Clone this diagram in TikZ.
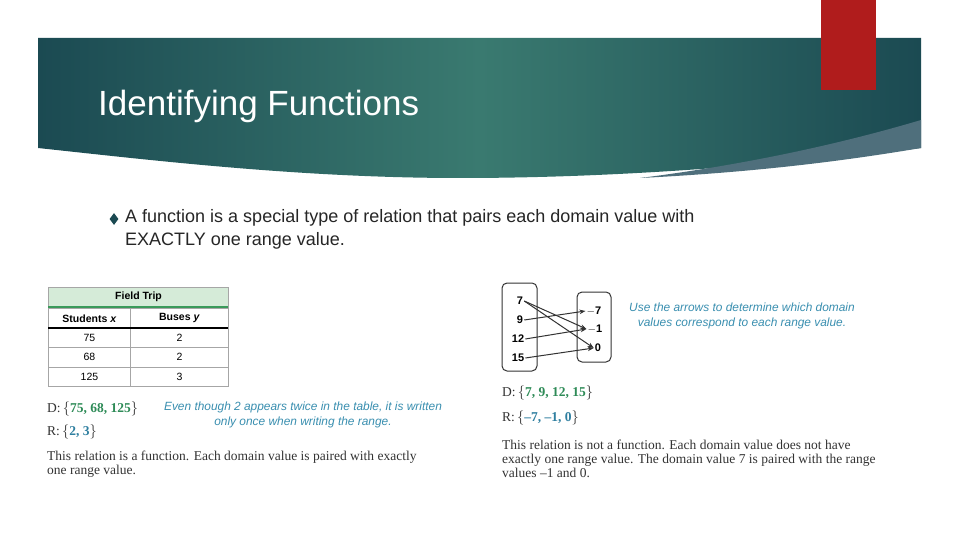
\documentclass[tikz,border=0pt]{standalone}
\usepackage{fontspec}
\setmainfont{Liberation Sans}
\newfontfamily\serifb{Liberation Serif}
\usetikzlibrary{shapes.geometric,arrows.meta}
\definecolor{tealA}{HTML}{1B4A52}
\definecolor{tealB}{HTML}{3A7A70}
\definecolor{swoosh}{HTML}{4F6F7C}
\definecolor{redb}{HTML}{B01C1C}
\definecolor{hdr}{HTML}{D5EBD8}
\definecolor{hdrline}{HTML}{3A9A5A}
\definecolor{gtxt}{HTML}{2E8B57}
\definecolor{btxt}{HTML}{2F7FA0}
\definecolor{note}{HTML}{3A8FB0}
\begin{document}
\begin{tikzpicture}[x=1pt,y=-1pt,
  cell/.style={draw=gray!70,line width=1pt,minimum height=19.5pt,inner sep=0pt,font=\fontsize{10.5}{12}\selectfont},
  bodyt/.style={font=\serifb\fontsize{13.5}{14}\selectfont,align=left,anchor=north west,inner sep=0pt,text=black!80},
  sett/.style={font=\serifb\fontsize{13.5}{15}\selectfont,anchor=west,inner sep=0pt,text=black!80},
  notet/.style={font=\itshape\fontsize{11.9}{15}\selectfont,text=note,align=center,inner sep=0pt},
  num/.style={font=\bfseries\fontsize{11}{12}\selectfont,inner sep=1pt},
  arr/.style={-{Stealth[length=6pt]},line width=1pt,black!80}]
\useasboundingbox (0,0) rectangle (960,540);
\fill[white] (0,0) rectangle (960,540);
% banner
\shade[left color=tealA,right color=tealA,middle color=tealB]
  (38,38) -- (921,38) -- (921,148) .. controls (750,168) and (600,178) .. (460,178)
  .. controls (300,178) and (150,160) .. (38,148) -- cycle;
\fill[swoosh] (921,120) .. controls (820,150) and (720,168) .. (640,178) .. controls (760,172) and (850,160) .. (921,148) -- cycle;
\fill[redb] (821,0) rectangle (876,90);
\node[anchor=west,text=white,font=\fontsize{35}{38}\selectfont,inner sep=0pt] (title) at (98,106) {Identifying Functions};
% bullet
\node[diamond,fill=tealA,minimum width=9pt,minimum height=12pt,inner sep=0pt] (bul) at (114,219) {};
\node[anchor=north west,inner sep=0pt,align=left,text=black!85,font=\fontsize{18}{23}\selectfont] (bt) at (125,209)
  {A function is a special type of relation that pairs each domain value with\\EXACTLY one range value.};
% table
\node[cell,fill=hdr,minimum width=180pt,font=\bfseries\fontsize{10.5}{12}\selectfont,anchor=north west] (th) at (48,287) {Field Trip};
\draw[hdrline,line width=1.2pt] (48,307) -- (228,307);
\foreach \a/\b [count=\i from 1] in {75/2,68/2,125/3}{
  \node[cell,minimum width=82pt,anchor=north west] (a\i) at (48,308+\i*19.5) {\a};
  \node[cell,minimum width=98pt,anchor=north west] (b\i) at (130,308+\i*19.5) {\b};
}
\node[cell,minimum width=82pt,anchor=north west,font=\bfseries\fontsize{10.5}{12}\selectfont] (a0) at (48,308) {Students \textit{x}};
\node[cell,minimum width=98pt,anchor=north west,font=\bfseries\fontsize{10.5}{12}\selectfont] (b0) at (130,308) {Buses \textit{y}};
\draw[black,line width=1.3pt] (48,328) -- (228,328);
\node[sett] (d1) at (47,409) {D:\,$\{$\textcolor{gtxt}{\textbf{75, 68, 125}}$\}$};
\node[sett] (r1) at (47,432) {R:\,$\{$\textcolor{btxt}{\textbf{2, 3}}$\}$};
\node[notet,anchor=north] (n1) at (303,402) {Even though 2 appears twice in the table, it is written\\only once when writing the range.};
\node[bodyt] (t1) at (47,451) {This relation is a function. Each domain value is paired with exactly\\one range value.};
% mapping
\draw[rounded corners=5pt,line width=1pt,black!80] (502,283) rectangle (537,371);
\draw[rounded corners=5pt,line width=1pt,black!80] (577,292) rectangle (611,362);
\node[num] (x7) at (520,301) {7};
\node[num] (x9) at (520,320) {9};
\node[num] (x12) at (518,339) {12};
\node[num] (x15) at (518,358) {15};
\node[num] (ym7) at (594,311) {$-$7};
\node[num] (ym1) at (595,329) {$-$1};
\node[num] (y0) at (598,348) {0};
\draw[arr] (x7.east) -- (ym1.west);
\draw[arr] (x7.east) -- (y0.west);
\draw[arr] (x9.east) -- (ym7.west);
\draw[arr] (x12.east) -- (ym1.west);
\draw[arr] (x15.east) -- (y0.west);
\node[notet,anchor=north] (n2) at (742,303) {Use the arrows to determine which domain\\values correspond to each range value.};
\node[sett] (d2) at (502,393) {D:\,$\{$\textcolor{gtxt}{\textbf{7, 9, 12, 15}}$\}$};
\node[sett] (r2) at (502,418) {R:\,$\{$\textcolor{btxt}{\textbf{–7, –1, 0}}$\}$};
\node[bodyt] (t2) at (502,440) {This relation is not a function. Each domain value does not have\\exactly one range value. The domain value 7 is paired with the range\\values –1 and 0.};
\end{tikzpicture}
\end{document}
